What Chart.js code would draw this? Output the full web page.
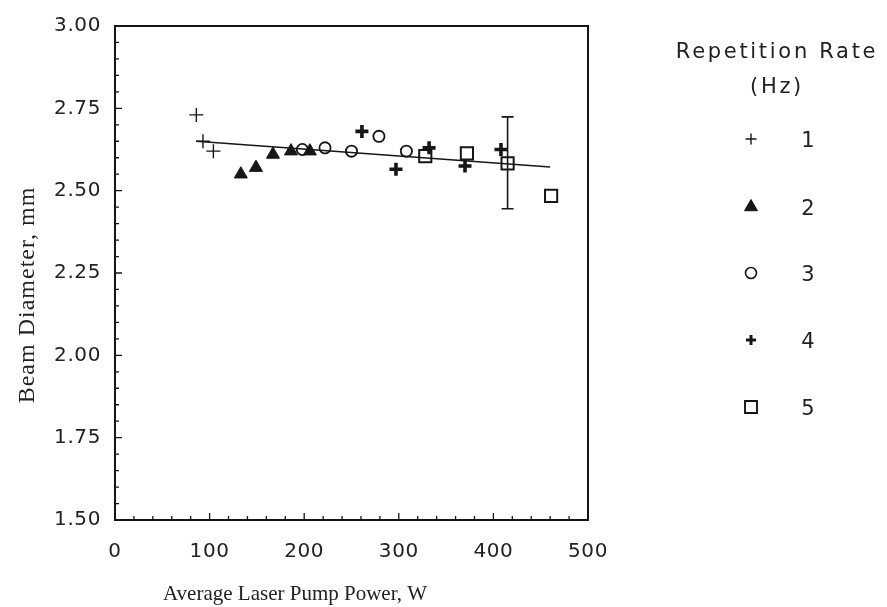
<!DOCTYPE html>
<html>
<head>
<meta charset="utf-8">
<script src="https://cdn.jsdelivr.net/npm/chart.js@4.4.1/dist/chart.umd.min.js"></script>
<style>
  html, body { margin: 0; padding: 0; background: #fff; }
  #wrap { width: 887px; height: 607px; position: relative; }
</style>
</head>
<body>
<div id="wrap"><canvas id="beamChart"></canvas></div>
<script>
// Beam diameter vs average pump power, one series per repetition rate (Hz)
const rate1Power = [86, 93, 104];
const rate1Diameter = [2.73, 2.65, 2.62];

const rate2Power = [133, 149, 167, 186, 206];
const rate2Diameter = [2.55, 2.57, 2.61, 2.62, 2.62];

const rate3Power = [198, 222, 250, 279, 308];
const rate3Diameter = [2.625, 2.63, 2.62, 2.665, 2.62];

const rate4Power = [261, 297, 332, 370, 408];
const rate4Diameter = [2.68, 2.565, 2.63, 2.575, 2.625];

const rate5Power = [328, 372, 415, 461];
const rate5Diameter = [2.605, 2.613, 2.583, 2.484];

// linear fit through all points
const fitPower = [86, 460];
const fitDiameter = [2.65, 2.572];

// single error bar on the 415 W point
const errPower = [415];
const errLow = [2.445];
const errHigh = [2.724];

const rateLabels = ['1', '2', '3', '4', '5'];
const xTickValues = [0, 100, 200, 300, 400, 500];
const yTickValues = [1.50, 1.75, 2.00, 2.25, 2.50, 2.75, 3.00];

const ink = '#161616';
const toPoints = (xs, ys) => xs.map((v, i) => ({ x: v, y: ys[i] }));

//Marker styles (also used for the legend)
const markers = [
  { pointStyle: 'cross', pointRadius: 7, pointBorderWidth: 1.4, fill: 'rgba(0,0,0,0)' },
  { pointStyle: 'triangle', pointRadius: 7.5, pointBorderWidth: 1, fill: ink },
  { pointStyle: 'circle', pointRadius: 5.6, pointBorderWidth: 1.8, fill: 'rgba(0,0,0,0)' },
  { pointStyle: 'cross', pointRadius: 6.5, pointBorderWidth: 3.6, fill: 'rgba(0,0,0,0)' },
  { pointStyle: 'rect', pointRadius: 8.6, pointBorderWidth: 2, fill: 'rgba(0,0,0,0)' }
];

const seriesData = [
  toPoints(rate1Power, rate1Diameter),
  toPoints(rate2Power, rate2Diameter),
  toPoints(rate3Power, rate3Diameter),
  toPoints(rate4Power, rate4Diameter),
  toPoints(rate5Power, rate5Diameter)
];

const datasets = seriesData.map((pts, i) => ({
  label: rateLabels[i],
  data: pts,
  pointStyle: markers[i].pointStyle,
  pointRadius: markers[i].pointRadius,
  pointHoverRadius: markers[i].pointRadius,
  pointBorderWidth: markers[i].pointBorderWidth,
  pointBorderColor: ink,
  pointBackgroundColor: markers[i].fill,
  showLine: false
}));

datasets.push({
  label: 'fit',
  data: toPoints(fitPower, fitDiameter),
  showLine: true,
  borderColor: ink,
  borderWidth: 1.6,
  pointRadius: 0,
  fill: false
});

// own legend marker drawing
function drawMarker(ctx, m, x, y, r, bw) {
  ctx.save();
  ctx.lineWidth = bw;
  ctx.strokeStyle = ink;
  ctx.fillStyle = m.fill;
  ctx.beginPath();
  if (m.pointStyle === 'cross') {
    ctx.moveTo(x - r, y); ctx.lineTo(x + r, y);
    ctx.moveTo(x, y - r); ctx.lineTo(x, y + r);
    ctx.stroke();
  } else if (m.pointStyle === 'triangle') {
    ctx.moveTo(x, y - r);
    ctx.lineTo(x + r * 0.866, y + r / 2);
    ctx.lineTo(x - r * 0.866, y + r / 2);
    ctx.closePath();
    ctx.fill(); ctx.stroke();
  } else if (m.pointStyle === 'circle') {
    ctx.arc(x, y, r, 0, Math.PI * 2);
    ctx.stroke();
  } else {
    ctx.rect(x - r, y - r, 2 * r, 2 * r);
    ctx.stroke();
  }
  ctx.restore();
}

const framePlugin = {
  id: 'frame',
  beforeDraw(chart) {
    chart.ctx.letterSpacing = '0.6px';
  },
  afterDraw(chart) {
    const { ctx, chartArea: a, scales } = chart;
    const xs = scales.x, ys = scales.y;
    ctx.save();

    // box
    ctx.strokeStyle = ink;
    ctx.lineWidth = 2;
    ctx.strokeRect(a.left, a.top, a.right - a.left, a.bottom - a.top);

    // inward ticks
    ctx.lineWidth = 1.3;
    ctx.beginPath();
    for (let v = 20; v < 500; v += 20) {
      const px = xs.getPixelForValue(v);
      const len = v % 100 === 0 ? 7 : 4;
      ctx.moveTo(px, a.bottom);
      ctx.lineTo(px, a.bottom - len);
    }
    for (let k = 1; k < 30; k++) {
      const v = 1.5 + k * 0.05;
      const py = ys.getPixelForValue(v);
      const len = k % 5 === 0 ? 7 : 4;
      ctx.moveTo(a.left, py);
      ctx.lineTo(a.left + len, py);
    }
    ctx.stroke();

    // error bar
    ctx.lineWidth = 1.6;
    errPower.forEach((p, i) => {
      const px = xs.getPixelForValue(p);
      const yTop = ys.getPixelForValue(errHigh[i]);
      const yBot = ys.getPixelForValue(errLow[i]);
      ctx.beginPath();
      ctx.moveTo(px, yTop); ctx.lineTo(px, yBot);
      ctx.moveTo(px - 6, yTop); ctx.lineTo(px + 6, yTop);
      ctx.moveTo(px - 6, yBot); ctx.lineTo(px + 6, yBot);
      ctx.stroke();
    });

    // axis titles
    ctx.fillStyle = '#222';
    ctx.letterSpacing = '0px';
    ctx.font = '21px "Liberation Serif", "Times New Roman", serif';
    ctx.textAlign = 'left';
    ctx.textBaseline = 'alphabetic';
    ctx.fillText('Average Laser Pump Power, W', 163, 600);

    ctx.save();
    ctx.letterSpacing = '1px';
    ctx.font = '24px "Liberation Serif", "Times New Roman", serif';
    ctx.translate(34, 295);
    ctx.rotate(-Math.PI / 2);
    ctx.textAlign = 'center';
    ctx.fillText('Beam Diameter, mm', 0, 0);
    ctx.restore();

    // legend
    ctx.letterSpacing = '2.7px';
    ctx.font = '21px "DejaVu Sans", sans-serif';
    ctx.textAlign = 'center';
    ctx.textBaseline = 'middle';
    ctx.fillText('Repetition Rate', 777, 53);
    ctx.fillText('(Hz)', 777, 88);

    ctx.letterSpacing = '0px';
    const rowY = [139, 207, 273, 340, 407];
    const legendR = [5.5, 7.5, 5.5, 5, 6];
    const legendBw = [1.4, 1, 1.6, 3, 1.9];
    rateLabels.forEach((lab, i) => {
      drawMarker(ctx, markers[i], 751, rowY[i], legendR[i], legendBw[i]);
      ctx.fillText(lab, 808, rowY[i] + 3);
    });

    ctx.restore();
  }
};

const beamCtx = document.getElementById('beamChart').getContext('2d');
const beamChart = new Chart(beamCtx, {
  type: 'scatter',
  data: { datasets: datasets },
  options: {
    responsive: true,
    maintainAspectRatio: false,
    animation: false,
    layout: { padding: { left: 0, top: 20, right: 299, bottom: 0 } },
    plugins: {
      legend: { display: false },
      tooltip: { enabled: false }
    },
    scales: {
      x: {
        type: 'linear',
        min: 0,
        max: 500,
        afterFit: (scale) => { scale.height = 87; },
        afterBuildTicks: (scale) => { scale.ticks = xTickValues.map(v => ({ value: v })); },
        grid: { display: false, drawTicks: false },
        border: { display: false },
        ticks: {
          padding: 20,
          color: '#222',
          font: { family: '"DejaVu Sans", sans-serif', size: 20 },
          callback: (v) => String(v)
        }
      },
      y: {
        type: 'linear',
        min: 1.5,
        max: 3.0,
        afterFit: (scale) => { scale.width = 115; },
        afterBuildTicks: (scale) => { scale.ticks = yTickValues.map(v => ({ value: v })); },
        grid: { display: false, drawTicks: false },
        border: { display: false },
        ticks: {
          padding: 14,
          color: '#222',
          font: { family: '"DejaVu Sans", sans-serif', size: 20 },
          callback: (v) => Number(v).toFixed(2)
        }
      }
    }
  },
  plugins: [framePlugin]
});
</script>
</body>
</html>
